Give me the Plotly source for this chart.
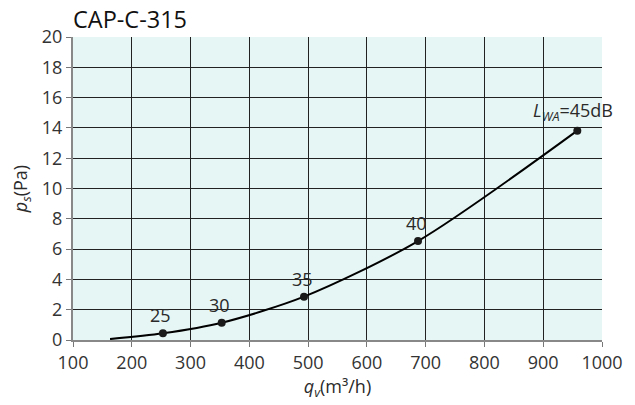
import plotly.graph_objects as go

# Data
curve_q = [163, 253, 353, 493, 687, 958]
curve_p = [0.06, 0.44, 1.14, 2.86, 6.53, 13.82]

point_q = [253, 353, 493, 687, 958]
point_p = [0.44, 1.14, 2.86, 6.53, 13.82]
point_labels = ["25", "30", "35", "40", "<i>L</i><sub><i>WA</i></sub>=45dB"]

x_ticks = [100, 200, 300, 400, 500, 600, 700, 800, 900, 1000]
y_ticks = [0, 2, 4, 6, 8, 10, 12, 14, 16, 18, 20]

FONT = "Open Sans"
TXT = "#2a2a2a"

# page body has an 8px default margin; compensate in the figure size/margins
fig = go.Figure()
fig.add_trace(go.Scatter(x=curve_q, y=curve_p, mode="lines",
                         line=dict(color="black", width=2, shape="spline", smoothing=0.8),
                         hoverinfo="skip", showlegend=False))
fig.add_trace(go.Scatter(x=point_q, y=point_p, mode="markers",
                         marker=dict(color="#1a1a1a", size=8),
                         showlegend=False))

for q, p, t in zip(point_q, point_p, point_labels):
    last = t.startswith("<i>")
    fig.add_annotation(x=q, y=p, text=t, showarrow=False,
                       xanchor="center" if not last else "right",
                       yanchor="bottom",
                       xshift=-2 if not last else 38,
                       yshift=4,
                       font=dict(family=FONT, size=18, color=TXT))

fig.update_layout(
    width=627, height=397,
    margin=dict(l=65, r=33, t=29, b=65, autoexpand=False),
    paper_bgcolor="white",
    plot_bgcolor="#E6F6F4",
    title=dict(text="CAP-C-315", x=65/627, xanchor="left", y=1-12/397, yanchor="middle",
               font=dict(family=FONT, size=23.5, color="#111")),
    font=dict(family=FONT, size=18, color=TXT),
)
fig.update_xaxes(range=[100, 1000], tickvals=x_ticks, ticks="outside", ticklen=5,
                 tickcolor="#777", showgrid=True, gridcolor="#222", gridwidth=1,
                 showline=True, linecolor="#888", linewidth=2, zeroline=False,
                 automargin=False,
                 tickfont=dict(family=FONT, size=18, color="#333"),
                 title=dict(text="<i>q</i><sub><i>v</i></sub>(m³/h)", standoff=8,
                            font=dict(family=FONT, size=18, color=TXT)))
fig.update_yaxes(range=[0, 20], tickvals=y_ticks, ticks="outside", ticklen=5,
                 tickcolor="#777", showgrid=True, gridcolor="#222", gridwidth=1,
                 showline=True, linecolor="#888", linewidth=2, zeroline=False,
                 automargin=False,
                 tickfont=dict(family=FONT, size=18, color="#333"),
                 title=dict(text="<i>p</i><sub><i>s</i></sub>(Pa)", standoff=12,
                            font=dict(family=FONT, size=18, color=TXT)))

fig.write_html("out.html")
